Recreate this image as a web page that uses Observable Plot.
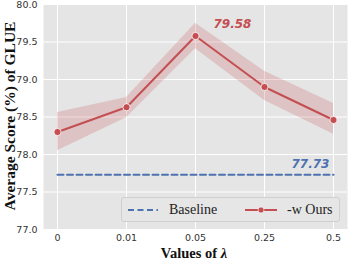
<!DOCTYPE html>
<html>
<head>
<meta charset="utf-8">
<script src="https://cdn.jsdelivr.net/npm/d3@7"></script>
<script src="https://cdn.jsdelivr.net/npm/@observablehq/plot@0.6"></script>
<style>
  html, body { margin: 0; padding: 0; background: #fff; }
  #wrap { position: relative; width: 349px; height: 259px; }
  #legend { position: absolute; left: 121px; top: 197px; width: 219px; height: 25px;
    background: #e6e6e6; border: 1px solid #cfcfcf; border-radius: 3px; box-sizing: border-box;
    font-family: "Liberation Serif", "Times New Roman", serif; font-size: 14px; color: #222; }
  #legend .item { position: absolute; top: 0; height: 23px; display: flex; align-items: center; }
</style>
</head>
<body>
<div id="wrap"></div>
<script>
const lambdas = ["0", "0.01", "0.05", "0.25", "0.5"];
const ours = [78.30, 78.63, 79.58, 78.90, 78.46];
const oursLow = [78.05, 78.49, 79.41, 78.72, 78.27];
const oursHigh = [78.56, 78.76, 79.75, 79.11, 78.68];
const baselineValue = 77.73;
const yTicks = [77.0, 77.5, 78.0, 78.5, 79.0, 79.5, 80.0];
const seriesNames = ["Baseline", "-w Ours"];

const red = "#c44e52";
const blue = "#4c72b0";

const rows = lambdas.map((l, i) => ({lambda: l, v: ours[i], lo: oursLow[i], hi: oursHigh[i], base: baselineValue}));
const peak = rows[d3.maxIndex(ours)];

const chart = Plot.plot({
  width: 349,
  height: 259,
  marginLeft: 43,
  marginRight: 2,
  marginTop: 4,
  marginBottom: 30,
  style: {fontFamily: "DejaVu Sans", fontSize: "9.5px", color: "#333", background: "transparent"},
  x: {type: "point", domain: lambdas, padding: 0.2, label: null},
  y: {domain: [77, 80], label: null},
  marks: [
    Plot.frame({fill: "#e5e5e5", stroke: null}),
    Plot.gridY(yTicks, {stroke: "#fff", strokeOpacity: 1, strokeWidth: 1}),
    Plot.gridX(lambdas, {stroke: "#fff", strokeOpacity: 1, strokeWidth: 1}),
    Plot.axisY(yTicks, {tickFormat: d3.format(".1f"), tickSize: 0, tickPadding: 6, fontSize: 9.5, fill: "#333", label: null}),
    Plot.axisX({tickSize: 0, tickPadding: 5, fontSize: 9.5, fill: "#333", label: null}),
    Plot.areaY(rows, {x: "lambda", y1: "lo", y2: "hi", fill: red, fillOpacity: 0.22}),
    Plot.lineY(rows, {x: "lambda", y: "base", stroke: blue, strokeWidth: 2, strokeDasharray: "6,3.5"}),
    Plot.lineY(rows, {x: "lambda", y: "v", stroke: red, strokeWidth: 2}),
    Plot.dot(rows, {x: "lambda", y: "v", fill: red, stroke: "#fff", strokeWidth: 0.8, r: 3.6}),
    Plot.text([peak], {x: "lambda", y: "v", text: d => d.v.toFixed(2), dx: 37, dy: -12,
      fill: red, fontFamily: "DejaVu Sans", fontWeight: "bold", fontStyle: "italic", fontSize: 12}),
    Plot.text([rows[rows.length - 1]], {x: "lambda", y: "base", text: d => d.base.toFixed(2), dx: -23, dy: -11,
      fill: blue, fontFamily: "DejaVu Sans", fontWeight: "bold", fontStyle: "italic", fontSize: 12})
  ]
});

const wrap = document.getElementById("wrap");
wrap.appendChild(chart);

const svg = d3.select(chart);
// y title
svg.append("text")
  .attr("transform", "translate(15,116) rotate(-90)")
  .attr("text-anchor", "middle")
  .attr("font-family", "Liberation Serif")
  .attr("font-weight", "bold")
  .attr("font-size", 15.5)
  .attr("fill", "#111")
  .text("Average Score (%) of GLUE");

// x title with italic lambda
const xt = svg.append("text")
  .attr("x", 194)
  .attr("y", 257.5)
  .attr("text-anchor", "middle")
  .attr("font-family", "Liberation Serif")
  .attr("font-weight", "bold")
  .attr("font-size", 14.5)
  .attr("fill", "#111");
xt.append("tspan").text("Values of ");
xt.append("tspan").attr("font-style", "italic").text("λ");

// legend
const legend = document.createElement("div");
legend.id = "legend";
legend.innerHTML = `
  <div class="item" style="left:6px"><svg width="30" height="6"><line x1="0" x2="30" y1="3" y2="3" stroke="${blue}" stroke-width="2" stroke-dasharray="6,3.5"/></svg><span style="margin-left:11px">${seriesNames[0]}</span></div>
  <div class="item" style="left:123px"><svg width="32" height="8"><line x1="0" x2="32" y1="4" y2="4" stroke="${red}" stroke-width="2"/><circle cx="16" cy="4" r="3" fill="${red}" stroke="#fff" stroke-width="0.6"/></svg><span style="margin-left:10px">${seriesNames[1]}</span></div>`;
wrap.appendChild(legend);
</script>
</body>
</html>
